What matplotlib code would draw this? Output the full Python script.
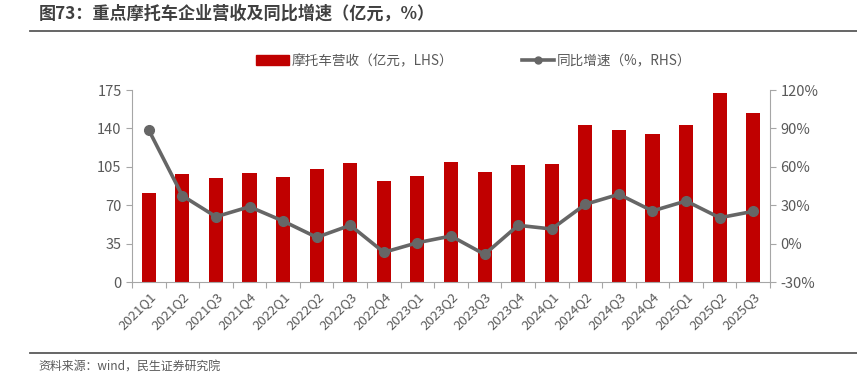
import matplotlib.pyplot as plt
from matplotlib.lines import Line2D
from matplotlib.patches import Patch
from matplotlib.ticker import FuncFormatter
import numpy as np

plt.rcParams['font.family'] = ['Noto Sans CJK SC', 'DejaVu Sans']

quarters = ['2021Q1', '2021Q2', '2021Q3', '2021Q4', '2022Q1', '2022Q2', '2022Q3', '2022Q4',
            '2023Q1', '2023Q2', '2023Q3', '2023Q4', '2024Q1', '2024Q2', '2024Q3', '2024Q4',
            '2025Q1', '2025Q2', '2025Q3']
revenue = [81, 98.5, 95, 99.5, 95.5, 103, 108.5, 92.5, 96.5, 109, 100, 106.5, 107.5,
           143, 138.5, 134.5, 143.5, 172.5, 154]
growth = [88.7, 37.4, 21, 28.8, 17.6, 4.9, 14.3, -6.8, 0.7, 5.9, -8.4, 14.3, 11.4,
          30.7, 38.5, 25.5, 33.3, 20.2, 25.2]

red = '#C00000'
gray = '#666666'
txt = '#595959'
spine = '#A6A6A6'

fig = plt.figure(figsize=(8.57, 3.79), dpi=100)
ax = fig.add_axes([132 / 857, 1 - 282 / 379, (770 - 132) / 857, 192 / 379])
ax2 = ax.twinx()

x = np.arange(len(quarters))
ax.bar(x, revenue, width=0.42, color=red, zorder=2)
ax2.plot(x, growth, color=gray, lw=2.6, marker='o', ms=7, zorder=3)

ax.set_xlim(-0.5, len(quarters) - 0.5)
ax.set_ylim(0, 175)
ax.set_yticks([0, 35, 70, 105, 140, 175])
ax2.set_ylim(-30, 120)
ax2.set_yticks([-30, 0, 30, 60, 90, 120])
ax2.yaxis.set_major_formatter(FuncFormatter(lambda v, p: f'{v:.0f}%'))

# 类目刻度在分界处，标签在中间
ax.set_xticks(np.arange(len(quarters) + 1) - 0.5)
ax.set_xticklabels([])
ax.set_xticks(x, minor=True)
ax.set_xticklabels(quarters, minor=True, rotation=45, ha='right', rotation_mode='anchor',
                   fontsize=9.5, color=txt)
ax.tick_params(axis='x', which='minor', length=0, pad=6)
ax.tick_params(axis='x', which='major', length=4, color=spine, direction='out')

for a in (ax, ax2):
    a.spines['top'].set_visible(False)
    for s in ('left', 'right', 'bottom'):
        a.spines[s].set_color(spine)
    a.tick_params(axis='y', labelcolor=txt, labelsize=10.5, length=4, color=spine)
ax2.spines['left'].set_visible(False)
ax.spines['right'].set_visible(False)
ax2.spines['bottom'].set_visible(False)

handles = [Patch(color=red), Line2D([], [], color=gray, lw=2.6, marker='o', ms=5)]
labels = ['摩托车营收（亿元，LHS）', '同比增速（%，RHS）']
fig.legend(handles, labels, loc='center', bbox_to_anchor=(0.553, 1 - 61 / 379), ncol=2,
           frameon=False, fontsize=9.8, labelcolor=txt, handlelength=2.4,
           handletextpad=0.2, columnspacing=5.0)

fig.text(39 / 857, 1 - 14 / 379, '图73：重点摩托车企业营收及同比增速（亿元，%）', fontsize=12.3,
         fontweight='bold', color='#404040', va='center')
fig.add_artist(Line2D([30 / 857, 1], [1 - 31 / 379, 1 - 31 / 379], color='#595959', lw=1.3))
fig.add_artist(Line2D([30 / 857, 1], [1 - 353 / 379, 1 - 353 / 379], color='#595959', lw=1.3))
fig.text(38 / 857, 1 - 366 / 379, '资料来源：wind，民生证券研究院', fontsize=8.6, color=txt, va='center')

fig.savefig('out.png', dpi=100)
